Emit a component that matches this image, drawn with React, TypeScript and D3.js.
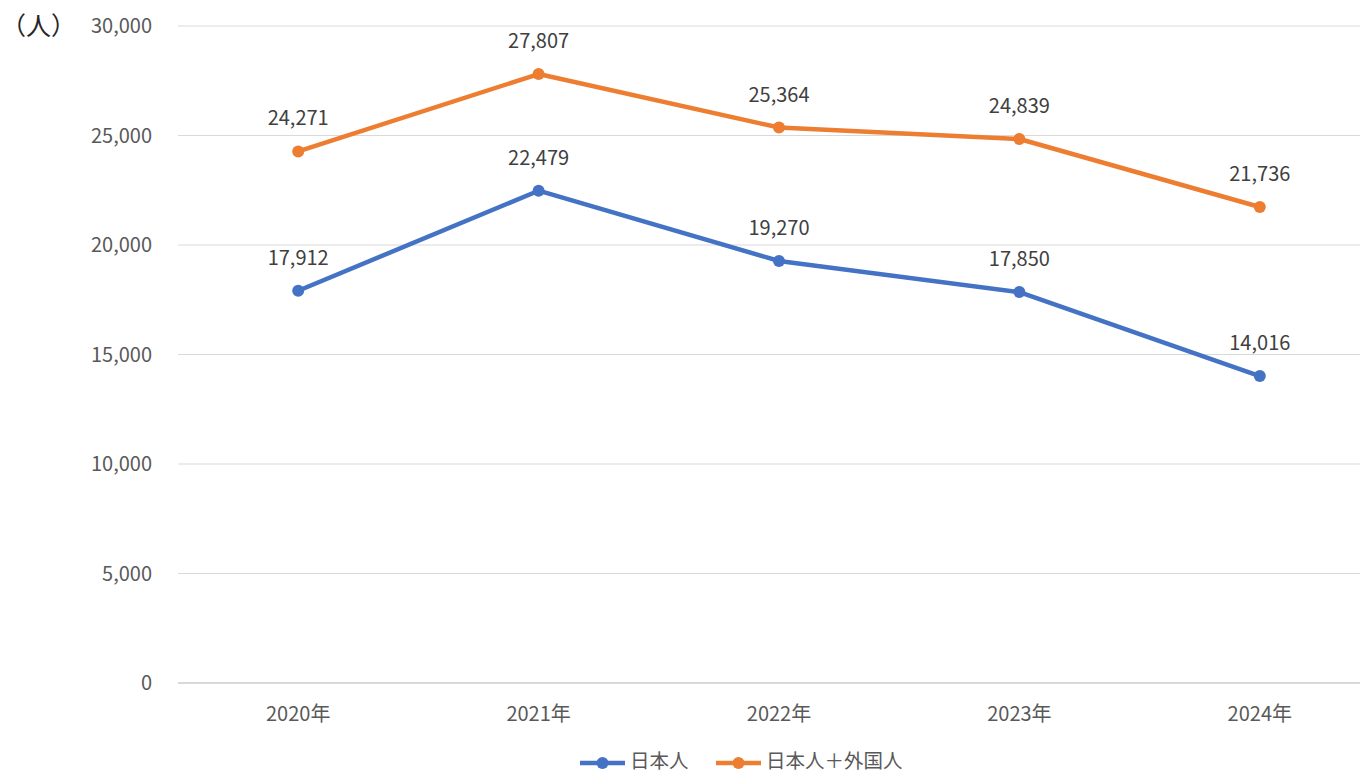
import React from "react";
import * as d3 from "d3";

const categories = ["2020年", "2021年", "2022年", "2023年", "2024年"];
const japanese = [17912, 22479, 19270, 17850, 14016];
const total = [24271, 27807, 25364, 24839, 21736];
const yTicks = [0, 5000, 10000, 15000, 20000, 25000, 30000];
const seriesNames = ["日本人", "日本人＋外国人"];
const colors = ["#4472C4", "#ED7D31"];

const W = 1360;
const H = 774;
const FONT = "'Noto Sans CJK JP', 'Noto Sans', sans-serif";

export default function App() {
  const x = d3.scaleBand<string>().domain(categories).range([178, 1380]);
  const y = d3.scaleLinear().domain([0, 30000]).range([683, 26]);
  const fmt = d3.format(",");
  const cx = (c: string) => (x(c) as number) + x.bandwidth() / 2;
  const line = d3
    .line<number>()
    .x((_, i) => cx(categories[i]))
    .y((d) => y(d));
  const series = [japanese, total];

  return (
    <svg
      width={W}
      height={H}
      style={{ position: "absolute", left: 0, top: 0, background: "#fff" }}
      fontFamily={FONT}
    >
      {yTicks.map((t) => (
        <g key={t}>
          {t !== 0 && (
            <line x1={178} x2={1380} y1={y(t)} y2={y(t)} stroke="#d9d9d9" strokeWidth={1} />
          )}
          <text x={152} y={y(t)} dy="0.35em" textAnchor="end" fontSize={20} fill="#595959">
            {fmt(t)}
          </text>
        </g>
      ))}
      <line x1={178} x2={1380} y1={y(0)} y2={y(0)} stroke="#d9d9d9" strokeWidth={2} />
      <text x={1} y={26} dy="0.35em" fontSize={25} fill="#262626">（人）</text>
      {categories.map((c) => (
        <text key={c} x={cx(c)} y={714} dy="0.35em" textAnchor="middle" fontSize={20} fill="#595959">
          {c}
        </text>
      ))}
      {series.map((s, si) => (
        <g key={si}>
          <path d={line(s) as string} fill="none" stroke={colors[si]} strokeWidth={4.5} strokeLinejoin="round" strokeLinecap="round" />
          {s.map((v, i) => (
            <circle key={i} cx={cx(categories[i])} cy={y(v)} r={6} fill={colors[si]} />
          ))}
          {s.map((v, i) => (
            <text key={"l" + i} x={cx(categories[i])} y={y(v) - 33} dy="0.35em" textAnchor="middle" fontSize={20} fill="#404040">
              {fmt(v)}
            </text>
          ))}
        </g>
      ))}
      {seriesNames.map((n, i) => {
        const lx = i === 0 ? 580 : 716;
        return (
          <g key={n}>
            <line x1={lx} x2={lx + 45} y1={763} y2={763} stroke={colors[i]} strokeWidth={4.5} />
            <circle cx={lx + 22.5} cy={763} r={6} fill={colors[i]} />
            <text x={lx + 50} y={768} fontSize={19.5} fill="#595959">{n}</text>
          </g>
        );
      })}
    </svg>
  );
}
